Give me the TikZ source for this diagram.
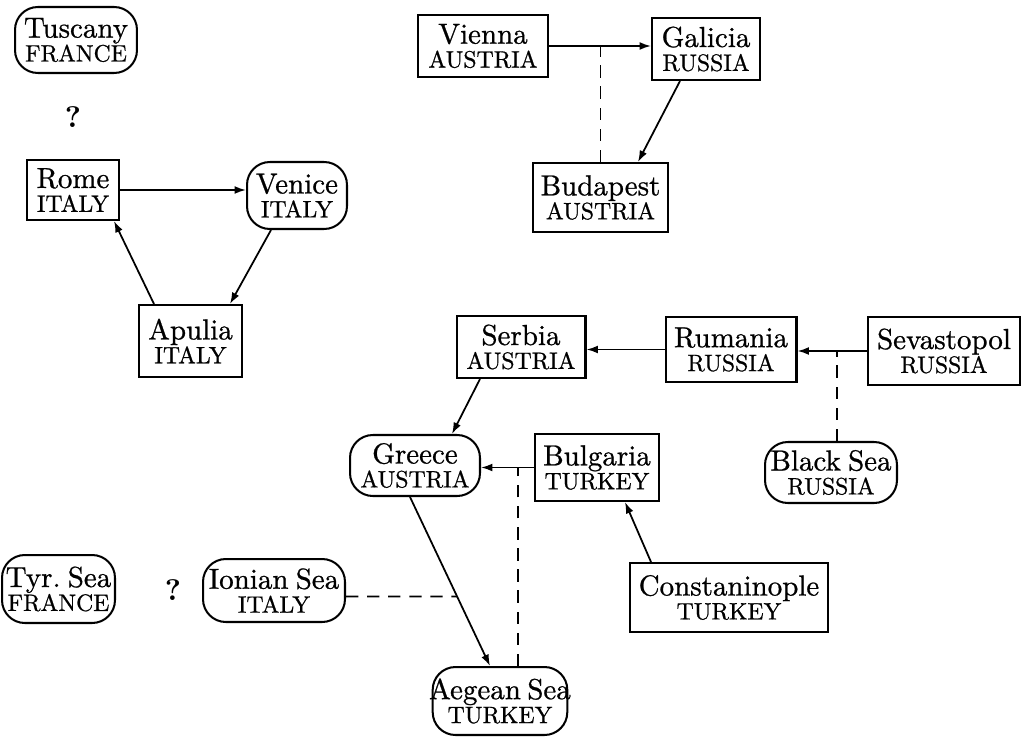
\documentclass[tikz,border=0pt]{standalone}
\usepackage{fontspec}
\usetikzlibrary{arrows.meta,calc}
\newfontfamily\heavy{lmroman10-regular.otf}[FakeBold=0.8]
\newfontfamily\heavyb{lmroman10-bold.otf}
\newcommand\twoline[2]{#1\\\fontsize{13.5}{13.6}\selectfont #2}
\begin{document}
\begin{tikzpicture}[x=0.02cm,y=-0.02cm,
  every node/.style={inner sep=0pt, align=center, font=\heavy\fontsize{16.5}{13.6}\selectfont},
  sq/.style={draw, line width=1.15pt, rectangle},
  rnd/.style={draw, line width=1.15pt, rounded corners=13pt},
  arr/.style={line width=1pt, -{Latex[length=6.5pt,width=4.5pt]}},
  dsh/.style={line width=1.1pt, dash pattern=on 7pt off 5pt},
  qm/.style={font=\heavyb\fontsize{17}{17}\selectfont}
]
\useasboundingbox (0,0) rectangle (1021,740);

% Italy / France group
\node[rnd, minimum width=2.44cm, minimum height=1.32cm] (tuscany) at (76,40) {\twoline{Tuscany}{FRANCE}};
\node[qm] (q1) at (73,117) {?};
\node[sq, minimum width=1.84cm, minimum height=1.2cm] (rome) at (73,190) {\twoline{Rome}{ITALY}};
\node[rnd, minimum width=2.0cm, minimum height=1.34cm] (venice) at (297,195.5) {\twoline{Venice}{ITALY}};
\node[sq, minimum width=2.06cm, minimum height=1.44cm] (apulia) at (190.5,341) {\twoline{Apulia}{ITALY}};

% Austria / Russia top group
\node[sq, minimum width=2.6cm, minimum height=1.24cm] (vienna) at (483,46) {\twoline{Vienna}{AUSTRIA}};
\node[sq, minimum width=2.16cm, minimum height=1.24cm] (galicia) at (706,49) {\twoline{Galicia}{RUSSIA}};
\node[sq, minimum width=2.7cm, minimum height=1.38cm] (budapest) at (600.5,197.5) {\twoline{Budapest}{AUSTRIA}};

% Balkans group
\node[sq, minimum width=2.58cm, minimum height=1.24cm] (serbia) at (521,347) {\twoline{Serbia}{AUSTRIA}};
\node[sq, minimum width=2.62cm, minimum height=1.3cm] (rumania) at (731,349.5) {\twoline{Rumania}{RUSSIA}};
\node[sq, minimum width=3.04cm, minimum height=1.36cm] (sevastopol) at (944,351) {\twoline{Sevastopol}{RUSSIA}};
\node[rnd, minimum width=2.6cm, minimum height=1.22cm] (greece) at (415,465.5) {\twoline{Greece}{AUSTRIA}};
\node[sq, minimum width=2.48cm, minimum height=1.34cm] (bulgaria) at (597,467.5) {\twoline{Bulgaria}{TURKEY}};
\node[rnd, minimum width=2.64cm, minimum height=1.22cm] (blacksea) at (831,472.5) {\twoline{Black\hspace{0.25em}Sea}{RUSSIA}};
\node[sq, minimum width=3.96cm, minimum height=1.38cm] (constan) at (729,597.5) {\twoline{Constaninople}{TURKEY}};
\node[rnd, minimum width=2.26cm, minimum height=1.36cm] (tyr) at (58.5,589) {\twoline{Tyr.\hspace{0.25em}Sea}{FRANCE}};
\node[qm] (q2) at (173,590) {?};
\node[rnd, minimum width=2.84cm, minimum height=1.26cm] (ionian) at (274,590.5) {\twoline{Ionian\hspace{0.25em}Sea}{ITALY}};
\node[rnd, minimum width=2.52cm, minimum height=1.36cm, inner xsep=-2pt] (aegean) at (500,701) {\twoline{Aegean\hspace{0.22em}Sea}{TURKEY}};

% Italy connectors
\draw[arr] (rome.east) -- (rome.east -| venice.west);
\draw[arr] ([xshift=-0.52cm]venice.south) -- ([xshift=0.79cm]apulia.north);
\draw[arr] ([xshift=-0.73cm]apulia.north) -- ([xshift=0.82cm]rome.south);

% Vienna group
\draw[arr] (vienna.east) -- (vienna.east -| galicia.west);
\draw[arr] ([xshift=-0.52cm]galicia.south) -- ([xshift=0.75cm]budapest.north);
\coordinate (vg) at (budapest.north |- vienna.east);
\draw[dsh] (budapest.north) -- (vg);

% Balkans connectors
\draw[arr] (rumania.west) -- (rumania.west -| serbia.east);
\draw[arr] (sevastopol.west) -- (sevastopol.west -| rumania.east);
\coordinate (bstop) at ([xshift=0.12cm]blacksea.north);
\coordinate (sr) at (bstop |- sevastopol.west);
\draw[dsh] (bstop) -- (sr);

\draw[arr] ([xshift=-0.82cm]serbia.south) -- ([xshift=0.74cm]greece.north);
\draw[arr] (bulgaria.west) -- (bulgaria.west -| greece.east);
\coordinate (aetop) at ([xshift=0.36cm]aegean.north);
\coordinate (bg) at (aetop |- bulgaria.west);
\draw[dsh] (aetop) -- (bg);

\coordinate (ga1) at ([xshift=-0.1cm]greece.south);
\coordinate (ga2) at ([xshift=-0.2cm]aegean.north);
\draw[arr] (ga1) -- (ga2);
\coordinate (ie1) at ([yshift=-0.12cm]ionian.east);
\coordinate (ie2) at ([xshift=6cm]ie1);
\coordinate (ih) at (intersection of ga1--ga2 and ie1--ie2);
\draw[dsh] (ie1) -- (ih);

\draw[arr] ([xshift=-1.56cm]constan.north) -- ([xshift=0.56cm]bulgaria.south);
\end{tikzpicture}
\end{document}
